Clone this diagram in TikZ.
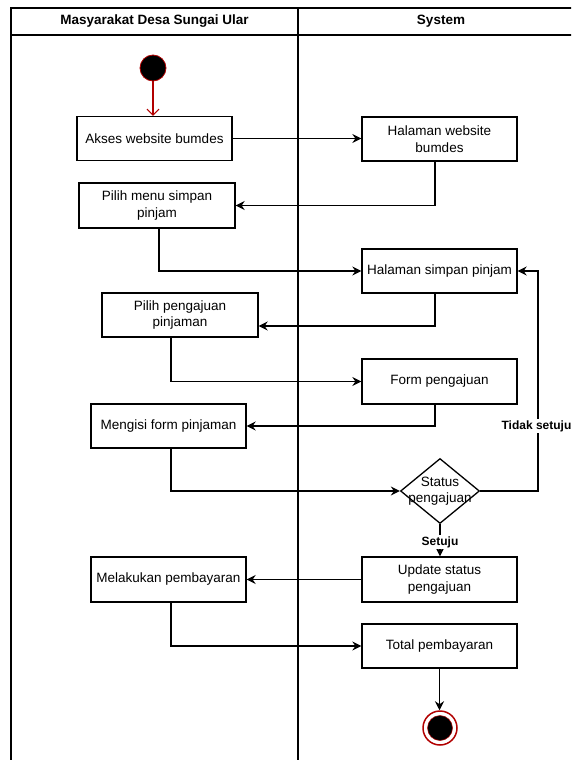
\documentclass[tikz,border=0pt]{standalone}
\usepackage{fontspec}
\setmainfont{Liberation Sans}
\usetikzlibrary{arrows.meta,shapes.geometric}
\definecolor{startred}{HTML}{B20000}
\begin{document}
\begin{tikzpicture}[x=1pt,y=-1pt,
  act/.style={draw, line width=1.3pt, rectangle, minimum width=155pt, minimum height=44pt, align=center, inner sep=2pt, font=\fontsize{13.5}{16.5}\selectfont},
  flow/.style={line width=1.3pt, -{Stealth[length=9pt,width=9pt,inset=3pt]}},
  lane/.style={line width=1.5pt},
  head/.style={font=\bfseries\fontsize{13.5}{16}\selectfont},
  lbl/.style={font=\bfseries\fontsize{12}{14}\selectfont, fill=white, inner sep=1pt}]
\clip (0,0) rectangle (571,760);
\fill[white] (0,0) rectangle (571,760);
% swimlanes
\draw[lane] (11,765) -- (11,8) -- (600,8);
\draw[lane] (11,35) -- (600,35);
\draw[lane] (298,8) -- (298,765);
\node[head] (h1) at (154.5,21.5) {Masyarakat Desa Sungai Ular};
\node[head] (h2) at (441,21.5) {System};
% nodes
\node[circle, fill=black, draw=startred, line width=0.8pt, minimum size=26pt, inner sep=0pt] (start) at (153,68) {};
\node[act] (akses) at (154.5,138.5) {Akses website bumdes};
\node[act] (halweb) at (439.5,139) {Halaman website\\bumdes};
\node[act, minimum width=156pt, minimum height=45pt] (pilihmenu) at (157,205.5) {Pilih menu simpan\\pinjam};
\node[act] (halsp) at (439.5,271) {Halaman simpan pinjam};
\node[act, minimum width=156pt] (pilihpeng) at (180,315) {Pilih pengajuan\\pinjaman};
\node[act, minimum height=45pt] (form) at (439.5,381.5) {Form pengajuan};
\node[act] (mengisi) at (168.5,426) {Mengisi form pinjaman};
\node[diamond, draw, line width=1.3pt, minimum width=79pt, minimum height=65pt, inner sep=0pt] (dec) at (440,491) {};
\node[align=center, font=\fontsize{13.5}{16.5}\selectfont] (dectext) at (440,491) {Status\\pengajuan};
\node[act, minimum height=45pt] (update) at (439.5,579.5) {Update status\\pengajuan};
\node[act, minimum height=45pt] (bayar) at (168.5,579.5) {Melakukan pembayaran};
\node[act] (total) at (439.5,646) {Total pembayaran};
\node[circle, draw=startred, line width=1.5pt, fill=white, minimum size=34pt, inner sep=0pt] (stop) at (440,728) {};
\node[circle, fill=black, draw=startred, line width=0.5pt, minimum size=25pt, inner sep=0pt] (stopin) at (440,728) {};
% connectors
\draw[startred, line width=1.1pt, -{Straight Barb[length=6pt,width=12pt]}] (start.south) -- (start.south |- akses.north);
\draw[flow] (akses.east) -- (akses.east -| halweb.west);
\draw[flow] ([xshift=-4.5pt]halweb.south) |- (pilihmenu.east);
\draw[flow] ([xshift=2pt]pilihmenu.south) |- (halsp.west);
\draw[flow] ([xshift=-4.5pt]halsp.south) |- ([yshift=-11pt]pilihpeng.east);
\draw[flow] ([xshift=-9pt]pilihpeng.south) |- (form.west);
\draw[flow] ([xshift=-4.5pt]form.south) |- (mengisi.east);
\draw[flow] ([xshift=2.5pt]mengisi.south) |- (dec.west);
\coordinate (tsx) at (538,491);
\draw[flow] (dec.east) -- (tsx) |- (halsp.east);
\node[lbl] (ts) at (536.5,426) {Tidak setuju};
\draw[flow] (dec.south) -- (dec.south |- update.north);
\node[lbl] (st) at (440,542) {Setuju};
\draw[flow] (update.west) -- (bayar.east);
\draw[flow] ([xshift=2.5pt]bayar.south) |- (total.west);
\draw[flow] (total.south) -- (total.south |- stop.north);
\end{tikzpicture}
\end{document}
